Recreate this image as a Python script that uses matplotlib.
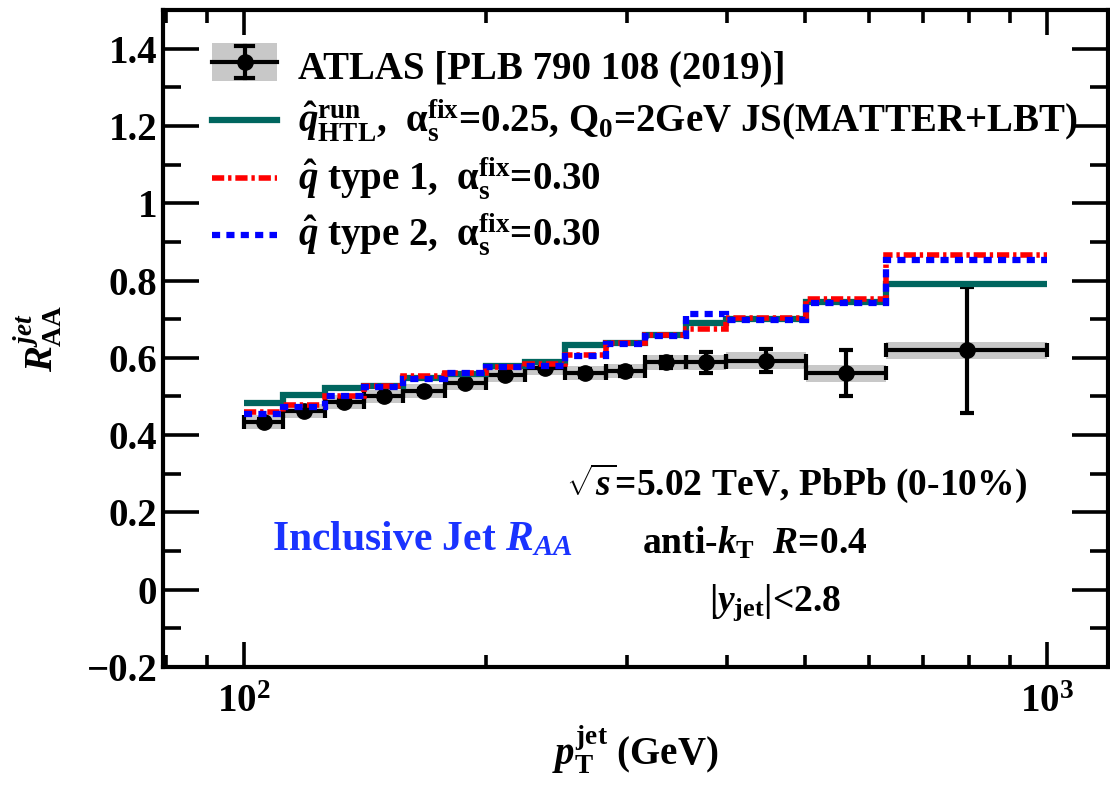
import numpy as np
import matplotlib
matplotlib.use("Agg")
import matplotlib.pyplot as plt
from matplotlib.lines import Line2D
from matplotlib.patches import Rectangle
from matplotlib.ticker import FixedLocator, FixedFormatter, LogLocator, NullFormatter

# ---------------- data ----------------
bin_edges = [100, 112, 126, 141, 158, 178, 200, 224, 251, 282, 316, 355, 398, 501, 631, 1000]
atlas_raa = [0.435, 0.462, 0.485, 0.500, 0.513, 0.534, 0.555, 0.573, 0.560, 0.565, 0.588, 0.588, 0.593, 0.560, 0.619]
atlas_stat = [0.006, 0.006, 0.006, 0.006, 0.006, 0.007, 0.008, 0.008, 0.010, 0.012, 0.014, 0.028, 0.030, 0.060, 0.163]
atlas_sys = [0.018, 0.018, 0.018, 0.018, 0.018, 0.018, 0.018, 0.018, 0.018, 0.018, 0.020, 0.020, 0.022, 0.022, 0.023]
qhat_run = [0.482, 0.503, 0.521, 0.526, 0.547, 0.557, 0.580, 0.590, 0.632, 0.638, 0.660, 0.689, 0.700, 0.745, 0.792]
qhat_type1 = [0.459, 0.477, 0.500, 0.526, 0.552, 0.562, 0.577, 0.585, 0.607, 0.638, 0.660, 0.675, 0.703, 0.752, 0.865]
qhat_type2 = [0.455, 0.474, 0.500, 0.524, 0.545, 0.560, 0.575, 0.580, 0.605, 0.636, 0.656, 0.713, 0.698, 0.742, 0.852]
y_ticks = [-0.2, 0.0, 0.2, 0.4, 0.6, 0.8, 1.0, 1.2, 1.4]
y_tick_labels = ["\u22120.2", "0", "0.2", "0.4", "0.6", "0.8", "1", "1.2", "1.4"]

# ---------------- style ----------------
plt.rcParams["font.family"] = ["Liberation Serif", "DejaVu Serif"]
plt.rcParams["font.weight"] = "bold"
plt.rcParams["axes.labelweight"] = "bold"
plt.rcParams["mathtext.fontset"] = "custom"
plt.rcParams["mathtext.rm"] = "Liberation Serif:bold"
plt.rcParams["mathtext.it"] = "Liberation Serif:bold:italic"
plt.rcParams["mathtext.bf"] = "Liberation Serif:bold"
plt.rcParams["mathtext.sf"] = "Liberation Serif:bold"

green = "#00665f"
red = "#ff0000"
blue = "#0000ff"
red_ls = (0, (2.2, 0.7, 0.6, 0.7))
blue_ls = (0, (1.3, 1.0))

fig = plt.figure(figsize=(11.10, 7.87), dpi=100)
ax = fig.add_axes([163/1110, (787-667)/787, 945/1110, 657/787])

edges = np.array(bin_edges, dtype=float)
lo, hi = edges[:-1], edges[1:]
xc = np.sqrt(lo * hi)
raa = np.array(atlas_raa)
sys_ = np.array(atlas_sys)

# systematic boxes
ax.bar(lo, 2 * sys_, width=hi - lo, bottom=raa - sys_, align="edge",
       color="#c8c8c8", edgecolor="none", zorder=1)
# data points
ax.errorbar(xc, raa, yerr=atlas_stat, xerr=[xc - lo, hi - xc], fmt="o",
            color="black", ms=11, elinewidth=3, capsize=5, capthick=3, zorder=3)

# theory
ax.stairs(qhat_run, edges, color=green, lw=4.5, zorder=4, baseline=None)
ax.stairs(qhat_type1, edges, color=red, lw=4, zorder=5, baseline=None, linestyle=red_ls)
ax.stairs(qhat_type2, edges, color=blue, lw=4.5, zorder=6, baseline=None, linestyle=blue_ls)

ax.set_xscale("log")
ax.set_xlim(79.3, 1191)
ax.set_ylim(-0.2, 1.5)

ax.yaxis.set_major_locator(FixedLocator(y_ticks))
ax.yaxis.set_major_formatter(FixedFormatter(y_tick_labels))
ax.yaxis.set_minor_locator(FixedLocator(np.arange(-0.2, 1.51, 0.1)))
ax.xaxis.set_major_locator(LogLocator(base=10, numticks=10))
ax.xaxis.set_minor_locator(LogLocator(base=10, subs=np.arange(2, 10), numticks=20))
ax.xaxis.set_minor_formatter(NullFormatter())

ax.tick_params(which="both", direction="in", top=True, right=True, width=2.6)
ax.tick_params(axis="y", which="major", length=26, labelsize=28, pad=4)
ax.tick_params(axis="y", which="minor", length=13)
ax.tick_params(axis="x", which="major", length=18, labelsize=28, pad=12)
ax.tick_params(axis="x", which="minor", length=9)
for s in ax.spines.values():
    s.set_linewidth(3)

ax.set_xlabel(r"$p_{\rm T}^{\rm jet}$ (GeV)", fontsize=28, labelpad=2)
ax.set_ylabel(r"$R^{jet}_{\rm AA}$", fontsize=28, labelpad=16)

# ---------------- legend (manual) ----------------
def fx(px):
    return (px - 163) / 945

def fy(py):
    return (667 - py) / 657

tr = ax.transAxes
x0, x1 = fx(212), fx(277)
xm = 0.5 * (x0 + x1)
# ATLAS entry
ax.add_patch(Rectangle((x0, fy(81)), x1 - x0, fy(43) - fy(81), transform=tr,
                       color="#c8c8c8", ec="none", zorder=7, clip_on=False))
ax.add_line(Line2D([x0, x1], [fy(62), fy(62)], transform=tr, color="black", lw=3, zorder=8))
ax.add_line(Line2D([xm, xm], [fy(78), fy(46)], transform=tr, color="black", lw=3, zorder=8))
for yy in (78, 46):
    ax.add_line(Line2D([xm - 0.009, xm + 0.009], [fy(yy), fy(yy)], transform=tr,
                       color="black", lw=3, zorder=8))
ax.add_line(Line2D([xm], [fy(62)], transform=tr, color="black", marker="o", ms=11, zorder=9))
# theory entries
ax.add_line(Line2D([x0, x1], [fy(120), fy(120)], transform=tr, color=green, lw=4.5, zorder=8))
ax.add_line(Line2D([x0, x1], [fy(178), fy(178)], transform=tr, color=red, lw=4, zorder=8,
                   linestyle=red_ls))
ax.add_line(Line2D([x0, x1], [fy(235), fy(235)], transform=tr, color=blue, lw=4.5, zorder=8,
                   linestyle=blue_ls))

tx = fx(298)
lfs = 28
ax.text(tx, fy(78), "ATLAS [PLB 790 108 (2019)]", transform=tr, fontsize=lfs, va="baseline")
ax.text(tx, fy(133), r"$\hat{q}^{\rm run}_{\rm HTL}$,  $\mathrm{\alpha}_{\rm s}^{\rm fix}$=0.25, Q$_{0}$=2GeV JS(MATTER+LBT)",
        transform=tr, fontsize=lfs, va="baseline")
ax.text(tx, fy(190), r"$\hat{q}$ type 1,  $\mathrm{\alpha}_{\rm s}^{\rm fix}$=0.30",
        transform=tr, fontsize=lfs, va="baseline")
ax.text(tx, fy(247), r"$\hat{q}$ type 2,  $\mathrm{\alpha}_{\rm s}^{\rm fix}$=0.30",
        transform=tr, fontsize=lfs, va="baseline")

# annotations
ax.text(fx(797), fy(483), r"$\sqrt{s}$=5.02 TeV, PbPb (0-10%)", transform=tr,
        fontsize=27, ha="center", va="center")
ax.text(fx(755), fy(543), r"anti-$k_{\rm T}$  $R$=0.4", transform=tr,
        fontsize=27, ha="center", va="center")
ax.text(fx(775), fy(603), r"|$y_{\rm jet}$|<2.8", transform=tr,
        fontsize=27, ha="center", va="center")
ax.text(fx(422), fy(540), r"Inclusive Jet $R_{AA}$", transform=tr, color="#1a33ff",
        fontsize=30, ha="center", va="center")

fig.savefig("out.png", dpi=100)
